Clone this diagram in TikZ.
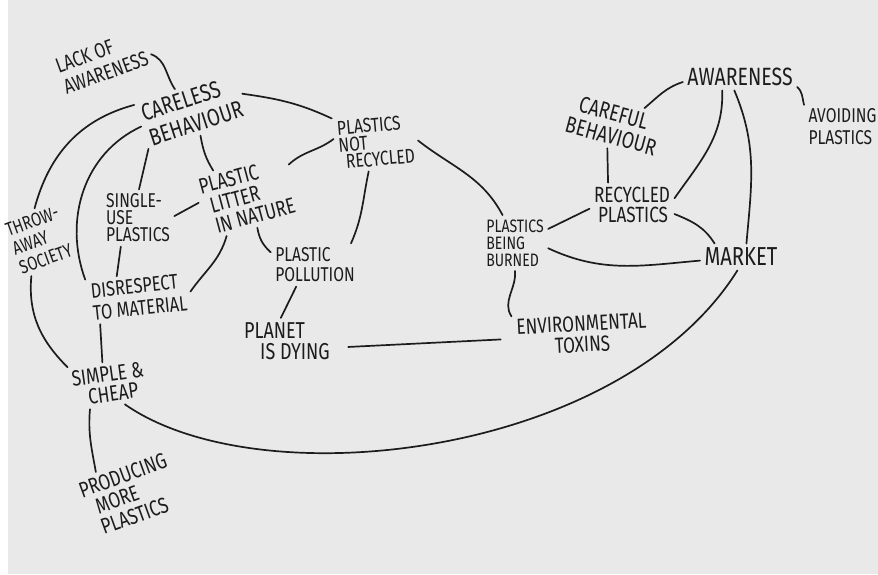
\documentclass[tikz,border=0pt]{standalone}
\usepackage{fontspec}
\newfontfamily\handfont{Fira Sans}[FakeStretch=0.78]
\newcommand\handsize[2]{\handfont\fontsize{#1}{#2}\selectfont}
\usetikzlibrary{calc}
\definecolor{paper}{RGB}{233,233,233}
\definecolor{ink}{RGB}{28,28,28}

\begin{document}
\begin{tikzpicture}[x=1pt,y=1pt]
  \tikzset{idea/.style={align=left, inner sep=1.5pt, outer sep=3pt, text=ink}};
  \tikzset{link/.style={draw=ink, line width=1.7pt, line cap=round}};
  \useasboundingbox (0,0) rectangle (878,-574);
  \fill[white] (0,0) rectangle (878,-574);
  \fill[paper] (8,0) rectangle (878,-574);

  % left cluster
  \node[idea,font=\handsize{21}{23},rotate=20] (lack) at (102,-62) {LACK OF\\AWARENESS};
  \node[idea,font=\handsize{24}{26},rotate=18] (careless) at (192,-111) {CARELESS\\BEHAVIOUR};
  \node[idea,font=\handsize{20}{17},rotate=5] (notrec) at (376,-142) {PLASTICS\\NOT\\\hspace{6pt}RECYCLED};
  \node[idea,font=\handsize{20}{17}] (single) at (138,-218) {SINGLE-\\USE\\PLASTICS};
  \node[idea,font=\handsize{22}{21},rotate=15] (litter) at (247,-196) {PLASTIC\\\hspace{6pt}LITTER\\\hspace{6pt}IN NATURE};
  \node[idea,font=\handsize{19}{20},rotate=20] (throw) at (39,-240) {THROW-\\AWAY\\SOCIETY};
  \node[idea,font=\handsize{21}{22},rotate=6] (disrespect) at (139,-297) {DISRESPECT\\TO MATERIAL};
  \node[idea,font=\handsize{20}{20}] (pollution) at (315,-265) {PLASTIC\\POLLUTION};
  \node[idea,font=\handsize{23}{21}] (planet) at (287,-341) {PLANET\\\hspace{16pt}IS DYING};
  \node[idea,font=\handsize{22}{20},rotate=8] (simple) at (109,-384) {SIMPLE \&\\\hspace{14pt}CHEAP};
  \node[idea,font=\handsize{22}{21},rotate=20] (producing) at (130,-495) {PRODUCING\\\hspace{10pt}MORE\\\hspace{8pt}PLASTICS};

  % right cluster
  \node[idea,font=\handsize{23}{23},rotate=-15] (careful) at (614,-125) {\hspace{8pt}CAREFUL\\BEHAVIOUR};
  \node[idea,font=\handsize{25}{25}] (aware) at (740,-77) {AWARENESS};
  \node[idea,font=\handsize{20}{22},anchor=west] (avoid) at (804,-127) {AVOIDING\\PLASTICS};
  \node[idea,font=\handsize{22}{20}] (recyc) at (632,-205) {RECYCLED\\\hspace{4pt}PLASTICS};
  \node[idea,font=\handsize{18}{17}] (burned) at (515,-243) {PLASTICS\\BEING\\BURNED};
  \node[idea,font=\handsize{26}{26}] (market) at (741,-257) {MARKET};
  \node[idea,font=\handsize{22}{21},align=center,rotate=3] (envtox) at (582,-334) {ENVIRONMENTAL\\TOXINS};

  \draw[link] (lack.-11) to[out=-20,in=125] (careless.110);
  \draw[link] (careless.156) to[out=195,in=75] (throw.78);
  \draw[link] (careless.179) to[out=205,in=110] (disrespect.north west);
  \draw[link] (careless.203) -- (single.88);
  \draw[link] (careless.-89) to[out=-80,in=122] (litter.128);
  \draw[link] (careless.1) to[out=-8,in=155] (notrec.147);
  \draw[link] (litter.22) to[out=43,in=217] (notrec.171);
  \draw[link] (single.3) -- (litter.173);
  \draw[link] (single.239) -- (disrespect.131);
  \draw[link] (litter.228) to[out=-106,in=55] (disrespect.0);
  \draw[link] (litter.-87) to[out=-80,in=138] (pollution.164);
  \draw[link] (notrec.251) to[out=-102,in=66] (pollution.31);
  \draw[link] (pollution.229) -- (planet.105);
  \draw[link] (throw.238) to[out=-95,in=135] (simple.150);
  \draw[link] (disrespect.209) -- (simple.99);
  \draw[link] (simple.225) to[out=-95,in=100] (producing.126);
  \draw[link] (simple.-60) to[out=-35,in=238,out distance=165pt,in distance=220pt] (market.255);
  \draw[link, shorten <=14pt, shorten >=12pt] (planet.-8) -- (envtox.181);
  \draw[link] (notrec.-3) to[out=-38,in=118] (burned.114);
  \draw[link] (burned.23) -- (recyc.185);
  \draw[link] (burned.-9) to[out=-25,in=185] (market.185);
  \draw[link] (burned.-90) to[out=-85,in=123] (envtox.163);
  \draw[link] (careful.269) -- (recyc.137);
  \draw[link] (careful.44) to[out=40,in=198] (aware.185);
  \draw[link] (aware.217) to[out=-88,in=55] (recyc.9);
  \draw[link] (aware.247) to[out=-67,in=85] (market.68);
  \draw[link] (aware.-10) to[out=-40,in=105] (avoid.150);
  \draw[link] (recyc.-12) to[out=-22,in=122] (market.153);
\end{tikzpicture}
\end{document}
